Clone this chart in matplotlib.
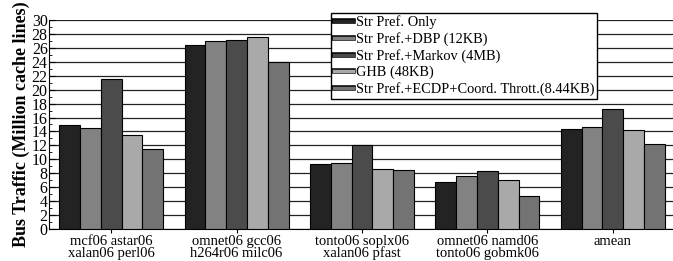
import numpy as np
import matplotlib
matplotlib.use('Agg')
import matplotlib.pyplot as plt
from matplotlib.lines import Line2D
import matplotlib.patheffects as pe

# 데이터
groups = ['mcf06 astar06\nxalan06 perl06', 'omnet06 gcc06\nh264r06 milc06',
          'tonto06 soplx06\nxalan06 pfast', 'omnet06 namd06\ntonto06 gobmk06', 'amean']
series = ['Str Pref. Only', 'Str Pref.+DBP (12KB)', 'Str Pref.+Markov (4MB)',
          'GHB (48KB)', 'Str Pref.+ECDP+Coord. Thrott.(8.44KB)']
str_only = [14.9, 26.4, 9.4, 6.8, 14.4]
dbp = [14.45, 27.05, 9.45, 7.55, 14.65]
markov = [21.5, 27.1, 12.0, 8.3, 17.2]
ghb = [13.5, 27.5, 8.6, 7.1, 14.15]
ecdp = [11.5, 24.0, 8.5, 4.7, 12.15]
values = [str_only, dbp, markov, ghb, ecdp]
colors = ['#232323', '#828282', '#4b4b4b', '#a9a9a9', '#737373']

plt.rcParams['font.family'] = ['Liberation Serif', 'DejaVu Serif']

fig = plt.figure(figsize=(6.73, 2.61), dpi=100)
ax = fig.add_axes([0.073, 0.1226, 0.927, 0.8008])

x = np.arange(len(groups))
w = 0.166
for i, (vals, col) in enumerate(zip(values, colors)):
    ax.bar(x + (i - 2) * w, vals, w, color=col, edgecolor='black', linewidth=0.8, zorder=3)

ax.set_xlim(-0.495, 4.48)
ax.set_ylim(0, 30)
ax.set_yticks(range(0, 31, 2))
ax.set_yticks(range(1, 30, 2), minor=True)
ax.yaxis.grid(True, which='major', color='#222222', linewidth=0.9, zorder=0)
ax.set_axisbelow(True)
ax.tick_params(axis='y', which='major', direction='in', length=4, pad=1, labelsize=11.5)
ax.tick_params(axis='y', which='minor', direction='in', length=2)
ax.set_xticks(x)
ax.set_xticklabels(groups, fontsize=10.5, linespacing=0.9)
ax.tick_params(axis='x', direction='out', length=3, pad=1)
for s in ['top', 'right']:
    ax.spines[s].set_visible(False)
ax.set_ylabel('Bus Traffic (Million cache lines)', fontsize=13, fontweight='bold', labelpad=1)

handles = [Line2D([0], [0], color=c, lw=2.5,
                  path_effects=[pe.Stroke(linewidth=4, foreground='black'), pe.Normal()])
           for c in colors]
leg = ax.legend(handles, series, loc='upper left', bbox_to_anchor=(0.452, 1.035),
                fontsize=10.4, frameon=True, fancybox=False, framealpha=1,
                edgecolor='black', handlelength=1.3, handletextpad=0.2,
                labelspacing=0.2, borderpad=0.2, borderaxespad=0)
leg.get_frame().set_linewidth(1)
leg.set_zorder(5)

fig.savefig('out.png', dpi=100)
